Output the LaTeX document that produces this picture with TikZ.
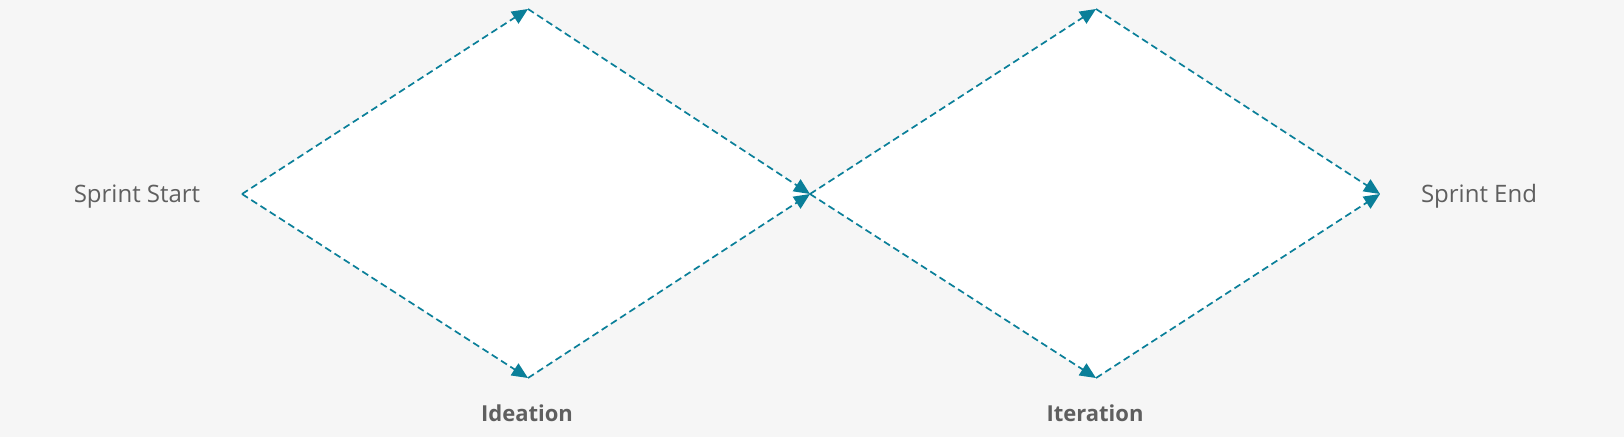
\documentclass[tikz,border=0pt]{standalone}
\usepackage{fontspec}
\setmainfont{Open Sans}
\usetikzlibrary{arrows.meta}
\definecolor{bg}{HTML}{F6F6F6}
\definecolor{teal}{HTML}{0A7F99}
\definecolor{txt}{HTML}{5F5F5F}
\tikzset{
  flow/.style={draw=teal, line width=1.7pt, dash pattern=on 7pt off 4pt, -{Triangle[length=16pt,width=14pt]}},
  lbl/.style={text=txt, font=\fontsize{24}{28}\selectfont, inner sep=0pt},
  phase/.style={text=txt, font=\fontsize{22}{26}\selectfont\bfseries, inner sep=0pt}
}
\begin{document}
\begin{tikzpicture}[x=1pt,y=-1pt]
\fill[bg] (0,0) rectangle (1624,437);
\useasboundingbox (0,0) rectangle (1624,437);
\coordinate (s) at (242,194);
\coordinate (t1) at (528,9);
\coordinate (b1) at (528,378);
\coordinate (m) at (810,194);
\coordinate (t2) at (1096,9);
\coordinate (b2) at (1096,378);
\coordinate (e) at (1380,194);
\fill[white] (s) -- (t1) -- (m) -- (b1) -- cycle;
\fill[white] (m) -- (t2) -- (e) -- (b2) -- cycle;
\draw[flow] (s) -- (t1);
\draw[flow] (s) -- (b1);
\draw[flow] (t1) -- (m);
\draw[flow] (b1) -- (m);
\draw[flow] (m) -- (t2);
\draw[flow] (m) -- (b2);
\draw[flow] (t2) -- (e);
\draw[flow] (b2) -- (e);
\node[lbl] (start) at (137,196.5) {Sprint Start};
\node[lbl] (end) at (1479,196.5) {Sprint End};
\node[phase] (ide) at (527,413) {Ideation};
\node[phase] (ite) at (1095,413) {Iteration};
\end{tikzpicture}
\end{document}
